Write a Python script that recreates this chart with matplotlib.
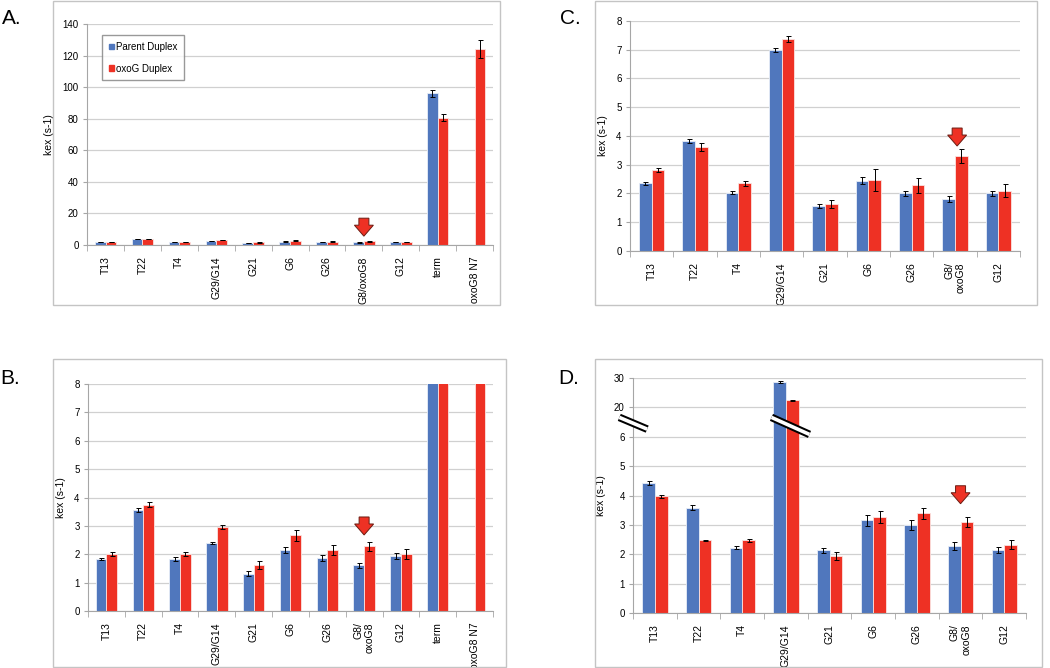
import matplotlib.pyplot as plt
import matplotlib.transforms as mtransforms
import numpy as np
from matplotlib.patches import Patch, Polygon, Rectangle

plt.rcParams['font.family'] = ['Liberation Sans', 'DejaVu Sans']

BLUE = '#5077bd'
RED = '#ee3124'

# categories
labels_ab = ["T13", "T22", "T4", "G29/G14", "G21", "G6", "G26", "G8/oxoG8", "G12", "term", "oxoG8 N7"]
labels_b = ["T13", "T22", "T4", "G29/G14", "G21", "G6", "G26", "G8/\noxoG8", "G12", "term", "oxoG8 N7"]
labels_cd = ["T13", "T22", "T4", "G29/G14", "G21", "G6", "G26", "G8/\noxoG8", "G12"]

# panels A and B (B is A with the y axis cut at 8)
ab_parent = [1.83, 3.56, 1.83, 2.39, 1.32, 2.14, 1.87, 1.61, 1.93, 96.1, np.nan]
ab_parent_err = [0.04, 0.06, 0.07, 0.03, 0.08, 0.10, 0.10, 0.08, 0.10, 2.1, np.nan]
ab_oxog = [2.01, 3.75, 2.01, 2.96, 1.62, 2.67, 2.14, 2.28, 2.00, 80.7, 124.0]
ab_oxog_err = [0.08, 0.10, 0.07, 0.07, 0.15, 0.20, 0.18, 0.15, 0.17, 2.3, 5.8]

# panel C
c_parent = [2.35, 3.82, 2.03, 6.99, 1.56, 2.45, 2.00, 1.80, 2.00]
c_parent_err = [0.05, 0.08, 0.05, 0.06, 0.08, 0.12, 0.10, 0.10, 0.10]
c_oxog = [2.82, 3.61, 2.35, 7.37, 1.65, 2.48, 2.28, 3.29, 2.09]
c_oxog_err = [0.07, 0.13, 0.08, 0.10, 0.14, 0.38, 0.27, 0.24, 0.23]

# panel D (axis broken between 6 and 20)
d_parent = [4.44, 3.59, 2.23, 28.6, 2.14, 3.15, 3.00, 2.29, 2.15]
d_parent_err = [0.07, 0.08, 0.05, 0.25, 0.09, 0.18, 0.17, 0.13, 0.11]
d_oxog = [3.98, 2.47, 2.47, 22.4, 1.95, 3.27, 3.39, 3.10, 2.33]
d_oxog_err = [0.05, 0.01, 0.05, 0.15, 0.13, 0.22, 0.20, 0.18, 0.14]
d_ticks = [0, 1, 2, 3, 4, 5, 6, 20, 30]

# block arrow outline in pixels, tip at (0, 0)
ARROW_PX = [(0, 0), (9.5, 11), (5, 11), (5, 18), (-5, 18), (-5, 11), (-9.5, 11)]


def squash(v):
    # 0..6 linear, then 20 -> 7 and 30 -> 8
    v = np.asarray(v, dtype=float)
    return np.where(v <= 6, v, 7 + (v - 20) / 10)


def draw(ax, labels, parent, perr, oxog, oerr, ymax, yticks, yticklabels=None):
    n = len(labels)
    x = np.arange(n)
    w = 0.29
    ekw = dict(ecolor='black', elinewidth=0.7, capsize=1.8, capthick=0.7)
    ax.bar(x - w / 2, parent, w, color=BLUE, edgecolor='#e8eef8', linewidth=0.6,
           yerr=perr, error_kw=ekw)
    ax.bar(x + w / 2, oxog, w, color=RED, edgecolor='#fbe3e1', linewidth=0.6,
           yerr=oerr, error_kw=ekw)
    ax.set_xlim(-0.5, n - 0.5)
    ax.set_ylim(0, ymax)
    ax.set_xticks(x)
    ax.set_xticklabels(labels, rotation=90, fontsize=7.5, multialignment='right')
    ax.set_xticks(np.arange(n + 1) - 0.5, minor=True)
    ax.tick_params(axis='x', which='major', length=0, pad=8)
    ax.tick_params(axis='x', which='minor', length=4, color='#a6a6a6')
    ax.set_yticks(yticks)
    if yticklabels is not None:
        ax.set_yticklabels(yticklabels)
    ax.tick_params(axis='y', length=3, color='#a6a6a6', labelsize=7, pad=3)
    ax.yaxis.grid(True, color='#d0d0d0', linewidth=0.9)
    ax.set_axisbelow(True)
    for s in ['top', 'right']:
        ax.spines[s].set_visible(False)
    for s in ['left', 'bottom']:
        ax.spines[s].set_color('#a6a6a6')
    ax.set_ylabel("kex (s-1)", fontsize=7.5, labelpad=6)


def red_arrow(ax, x, tip):
    fig = ax.figure
    trans = fig.dpi_scale_trans + mtransforms.ScaledTranslation(x, tip, ax.transData)
    pts = [(px / fig.dpi, py / fig.dpi) for px, py in ARROW_PX]
    ax.add_patch(Polygon(pts, closed=True, transform=trans, facecolor=RED,
                         edgecolor='#6b1c12', linewidth=0.7, zorder=4, clip_on=False))


def break_mark(ax, xs, ys, transform):
    ax.plot(xs, ys, color='black', lw=5.5, transform=transform, clip_on=False,
            solid_capstyle='butt', zorder=5)
    ax.plot(xs, ys, color='white', lw=2.6, transform=transform, clip_on=False,
            solid_capstyle='butt', zorder=6)


fig = plt.figure(figsize=(10.5, 6.68), dpi=100)

# panel frames (pixels: x0, y0 top, x1, y1 bottom)
for x0, y0, x1, y1 in [(53, 1, 500, 305), (595, 1, 1037, 305),
                       (53, 359, 506, 667), (595, 359, 1042, 667)]:
    fig.patches.append(Rectangle((x0 / 1050, 1 - y1 / 668), (x1 - x0) / 1050, (y1 - y0) / 668,
                                 transform=fig.transFigure, fill=False,
                                 edgecolor='#c4c4c4', linewidth=1))

axA = fig.add_axes([0.0829, 0.6332, 0.3867, 0.3308])
axC = fig.add_axes([0.6000, 0.6243, 0.3714, 0.3443])
axB = fig.add_axes([0.0838, 0.0853, 0.3857, 0.3398])
axD = fig.add_axes([0.6029, 0.0823, 0.3743, 0.3518])

# A
draw(axA, labels_ab, ab_parent, ab_parent_err, ab_oxog, ab_oxog_err, 140, range(0, 141, 20))
axA.legend(handles=[Patch(color=BLUE, label='Parent Duplex'), Patch(color=RED, label='oxoG Duplex')],
           loc='upper left', bbox_to_anchor=(0.037, 0.95), fontsize=7, frameon=True, fancybox=False,
           edgecolor='#808080', handlelength=0.5, handleheight=0.5, handletextpad=0.2,
           labelspacing=1.2, borderpad=0.7, borderaxespad=0)
red_arrow(axA, 7, 5.6)

# B
draw(axB, labels_b, ab_parent, ab_parent_err, ab_oxog, ab_oxog_err, 8, range(0, 9))
red_arrow(axB, 7, 2.68)

# C
draw(axC, labels_cd, c_parent, c_parent_err, c_oxog, c_oxog_err, 8, range(0, 9))
red_arrow(axC, 7.05, 3.65)

# D
dp = np.array(d_parent)
do = np.array(d_oxog)
dpe = np.array(d_parent_err)
doe = np.array(d_oxog_err)
perr_d = [squash(dp) - squash(dp - dpe), squash(dp + dpe) - squash(dp)]
oerr_d = [squash(do) - squash(do - doe), squash(do + doe) - squash(do)]
draw(axD, labels_cd, squash(dp), perr_d, squash(do), oerr_d, 8,
     squash(d_ticks), [str(t) for t in d_ticks])
red_arrow(axD, 7, 3.72)
# break marks on the y axis and across the G29/G14 bars
break_mark(axD, [-0.035, 0.036], [6.66, 6.26], axD.get_yaxis_transform())
break_mark(axD, [3 - 0.33, 3 + 0.54], [6.66, 6.08], axD.transData)

for txt, x, y in [("A.", 0.002, 0.972), ("C.", 0.533, 0.972), ("B.", 0.0, 0.433), ("D.", 0.532, 0.433)]:
    fig.text(x, y, txt, fontsize=15, va='center', ha='left')

fig.savefig("out.png", dpi=100)
